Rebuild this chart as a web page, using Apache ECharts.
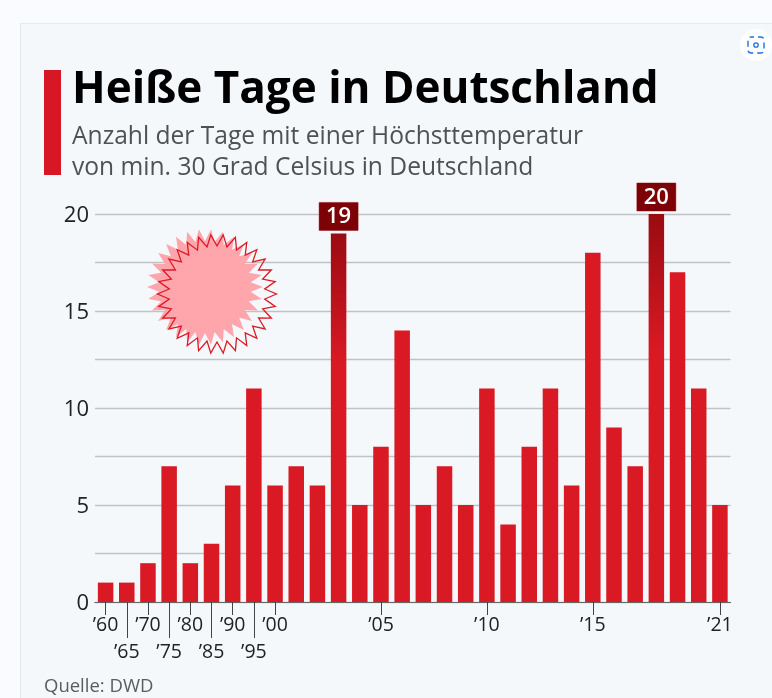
<!DOCTYPE html>
<html>
<head>
<meta charset="utf-8">
<style>
html, body { margin: 0; padding: 0; background: #f9fbff; }
#chart { width: 772px; height: 698px; }
</style>
<script src="https://cdn.jsdelivr.net/npm/echarts@6/dist/echarts.min.js"></script>
</head>
<body>
<div id="chart"></div>
<script>
var years = ['60','65','70','75','80','85','90','95','00','01','02','03','04','05','06','07','08','09','10','11','12','13','14','15','16','17','18','19','20','21'];
var hotDays = [1,1,2,7,2,3,6,11,6,7,6,19,5,8,14,5,7,5,11,4,8,11,6,18,9,7,20,17,11,5];
var upperLabels = ['60','70','80','90','00','05','10','15','21'];
var lowerLabels = ['65','75','85','95'];
var highlighted = ['03','18'];

var font = '"Open Sans", sans-serif';

// sun decoration, 30 spikes
function starPoints(cx, cy, outer, inner) {
  var pts = [];
  for (var i = 0; i < 60; i++) {
    var r = i % 2 == 0 ? outer : inner;
    var a = i * Math.PI / 30;
    pts.push([cx + r * Math.cos(a), cy + r * Math.sin(a)]);
  }
  return pts;
}

var barData = hotDays.map(function (v, i) {
  if (highlighted.indexOf(years[i]) < 0) return v;
  return {
    value: v,
    itemStyle: {
      color: new echarts.graphic.LinearGradient(0, 0, 0, 1, [
        { offset: 0, color: '#990b12' },
        { offset: 0.35, color: '#d91924' },
        { offset: 1, color: '#d91924' }
      ])
    },
    label: {
      show: true,
      position: 'top',
      distance: 3,
      formatter: '{c}',
      color: '#fff',
      fontFamily: font,
      fontSize: 22,
      fontWeight: 600,
      lineHeight: 27,
      backgroundColor: '#7c0207',
      borderColor: '#c9878b',
      borderWidth: 0.5,
      padding: [1, 6, 0, 6],
      width: 27,
      align: 'center'
    }
  };
});

function xAxisFor(list, tickLen, margin) {
  var pick = function (index, value) { return list.indexOf(value) >= 0; };
  return {
    type: 'category',
    position: 'bottom',
    data: years,
    axisLine: { show: true, lineStyle: { color: '#666', width: 1 } },
    axisTick: { show: true, alignWithLabel: true, interval: pick, length: tickLen, lineStyle: { color: '#444', width: 1 } },
    axisLabel: {
      interval: pick,
      margin: margin,
      hideOverlap: false,
      color: '#222',
      fontFamily: font,
      fontSize: 19.5,
      formatter: function (v) { return '’' + v; }
    }
  };
}

var chart = echarts.init(document.getElementById('chart'));
chart.setOption({
  animation: false,
  backgroundColor: '#f9fbff',
  grid: { left: 95, right: 41.5, top: 214, bottom: 96 },
  xAxis: [xAxisFor(upperLabels, 13, 13), xAxisFor(lowerLabels, 36, 40)],
  yAxis: {
    type: 'value',
    min: 0,
    max: 20,
    interval: 2.5,
    axisLine: { show: false },
    axisTick: { show: false },
    splitLine: { lineStyle: { color: '#bfc3c7', width: 1.3 } },
    axisLabel: {
      margin: 6,
      formatter: function (v) { return v % 5 == 0 ? '{n|' + v + '}' : ''; },
      rich: {
        n: { color: '#222', fontFamily: font, fontSize: 22, lineHeight: 26, padding: [3, 0, 0, 0] }
      }
    }
  },
  series: [{
    type: 'bar',
    xAxisIndex: 0,
    data: barData,
    barWidth: 15.5,
    itemStyle: { color: '#d91924' },
    z: 3
  }],
  graphic: [
    { type: 'rect', z: -10, silent: true, shape: { x: 20.5, y: 23.5, width: 760, height: 690 },
      style: { fill: '#f5f8fb', stroke: '#e6e8ea', lineWidth: 1 } },
    { type: 'rect', z: 5, shape: { x: 44, y: 70, width: 17, height: 105 }, style: { fill: '#d81724' } },
    { type: 'text', z: 5, x: 72, y: 68, style: { text: 'Heiße Tage in Deutschland', fill: '#000', font: 'bold 44px "Open Sans", sans-serif' } },
    { type: 'text', z: 5, x: 72, y: 124, style: { text: 'Anzahl der Tage mit einer Höchsttemperatur', fill: '#4f5254', font: '24.6px "Open Sans", sans-serif' } },
    { type: 'text', z: 5, x: 72, y: 155, style: { text: 'von min. 30 Grad Celsius in Deutschland', fill: '#4f5254', font: '24.6px "Open Sans", sans-serif' } },
    { type: 'text', z: 5, x: 44, y: 677, style: { text: 'Quelle: DWD', fill: '#5a5d60', font: '18.5px "Open Sans", sans-serif' } },
    { type: 'polygon', z: 5, shape: { points: starPoints(205, 287, 58, 46) }, style: { fill: '#ffa5ac' } },
    { type: 'polygon', z: 6, shape: { points: starPoints(217, 294, 59.5, 48) }, style: { fill: 'none', stroke: '#dc1a26', lineWidth: 1.3 } },
    // screenshot button at the top right
    { type: 'circle', z: 7, shape: { cx: 756, cy: 45, r: 16 }, style: { fill: '#fff' } },
    { type: 'circle', z: 8, shape: { cx: 756, cy: 45, r: 2.2 }, style: { fill: 'none', stroke: '#1a73d9', lineWidth: 1.3 } },
    { type: 'rect', z: 8, shape: { x: 748, y: 37, width: 16, height: 16, r: 3 },
      style: { fill: 'none', stroke: '#1a73d9', lineWidth: 1.4, lineDash: [6, 4], lineDashOffset: 3 } }
  ]
});
</script>
</body>
</html>
